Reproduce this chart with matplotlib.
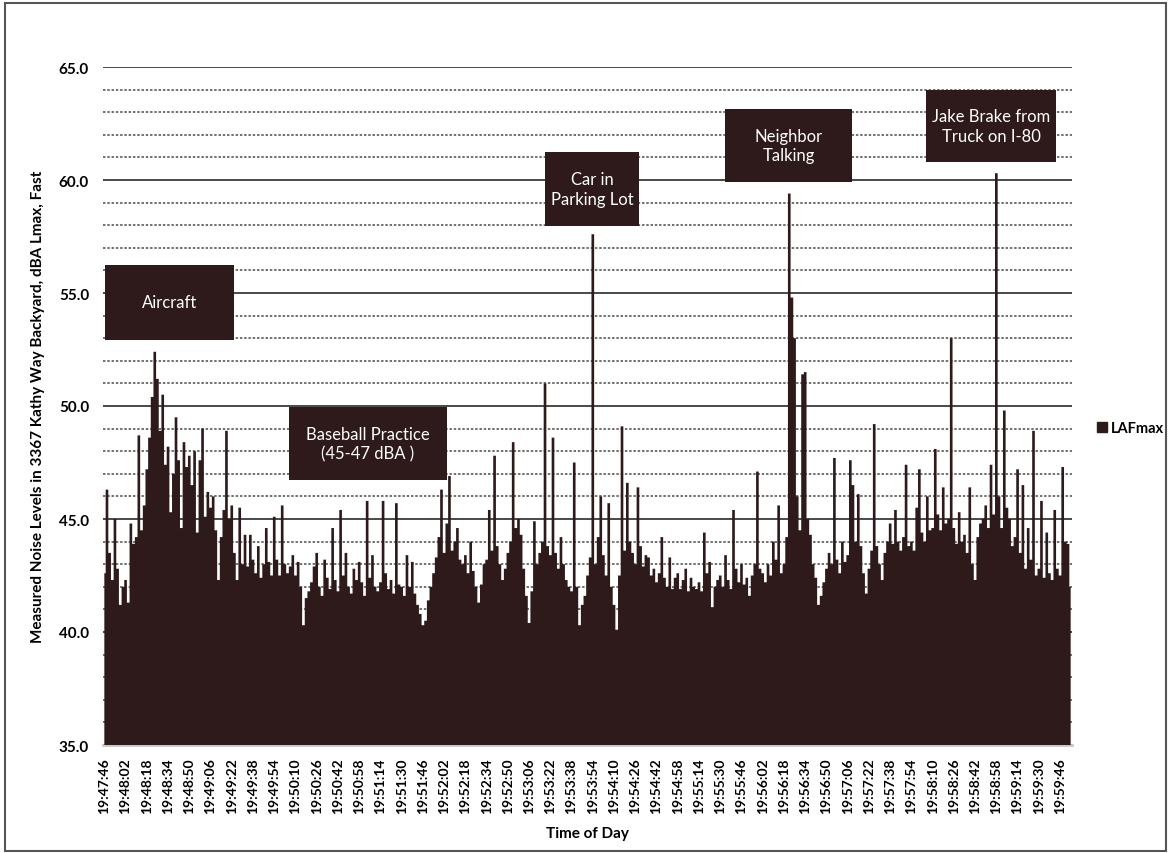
import matplotlib.pyplot as plt
import numpy as np
from matplotlib.patches import Patch, Rectangle

# LAFmax readings, 2 s apart, one row per 16 s tick interval
LAFMAX = [
    42.6, 46.3, 43.5, 42.3, 45.0, 42.8, 41.2, 42.0,
    42.3, 41.3, 44.8, 43.9, 44.2, 48.7, 44.5, 45.6,
    47.2, 48.6, 50.4, 52.4, 51.2, 48.9, 50.5, 47.4,
    48.2, 45.3, 47.0, 49.5, 47.6, 44.6, 48.4, 47.3,
    47.8, 46.5, 48.0, 44.4, 47.6, 49.0, 45.1, 46.2,
    45.5, 46.0, 44.5, 42.3, 44.2, 45.4, 48.9, 45.0,
    45.6, 43.5, 42.3, 45.5, 43.0, 44.3, 42.9, 44.3,
    43.2, 42.6, 43.8, 42.4, 43.0, 44.6, 43.1, 42.5,
    45.1, 43.2, 42.5, 45.6, 43.0, 42.6, 42.9, 43.4,
    42.5, 43.1, 42.0, 40.3, 41.5, 41.8, 42.2, 42.9,
    43.5, 42.0, 41.6, 43.2, 42.4, 41.9, 44.6, 42.3,
    41.8, 45.4, 42.5, 43.5, 42.0, 41.7, 42.8, 42.3,
    43.1, 42.2, 41.6, 45.8, 42.4, 43.4, 42.0, 41.8,
    42.2, 45.8, 42.6, 41.9, 42.3, 41.7, 45.7, 42.1,
    42.0, 41.6, 43.4, 42.0, 43.1, 41.7, 41.2, 40.8,
    40.3, 40.5, 41.4, 42.0, 42.6, 43.3, 44.2, 46.3,
    43.5, 44.8, 46.9, 43.6, 44.0, 44.6, 43.2, 43.0,
    43.4, 42.6, 44.0, 42.7, 42.0, 41.3, 42.1, 43.0,
    43.2, 45.4, 43.6, 47.8, 43.8, 43.0, 42.3, 42.8,
    43.5, 44.0, 48.4, 44.6, 45.0, 44.3, 42.8, 41.6,
    40.4, 41.8, 44.9, 43.0, 43.5, 44.0, 51.0, 43.8,
    43.4, 48.6, 43.5, 42.8, 44.2, 43.0, 42.3, 42.0,
    41.8, 47.5, 42.0, 40.3, 41.2, 41.6, 42.5, 43.3,
    57.6, 43.0, 44.2, 46.0, 43.4, 42.5, 45.7, 42.0,
    41.2, 40.1, 42.5, 49.1, 43.6, 46.6, 44.0, 43.5,
    43.0, 46.4, 43.8, 42.9, 43.4, 43.3, 42.5, 42.8,
    42.2, 42.6, 44.2, 42.4, 42.0, 43.3, 41.9, 42.4,
    42.6, 41.9, 42.3, 42.8, 41.8, 42.4, 42.0, 41.9,
    42.2, 41.8, 44.4, 42.6, 43.1, 41.1, 42.0, 42.3,
    42.5, 42.0, 43.4, 42.3, 41.9, 45.4, 42.8, 42.2,
    43.0, 42.1, 42.4, 41.6, 42.5, 43.0, 47.1, 42.8,
    42.6, 42.2, 43.0, 42.5, 44.0, 43.2, 45.6, 42.6,
    43.0, 44.2, 59.4, 54.8, 53.0, 46.0, 44.5, 51.4,
    51.5, 45.0, 44.3, 43.0, 42.4, 41.2, 41.6, 42.2,
    42.8, 43.5, 43.0, 47.7, 43.2, 42.6, 44.0, 43.1,
    43.4, 47.6, 46.5, 44.0, 46.1, 43.8, 42.6, 41.7,
    42.8, 43.6, 49.2, 43.8, 43.0, 42.3, 43.5, 44.0,
    44.8, 43.9, 45.4, 44.0, 43.6, 44.2, 47.4, 43.8,
    44.0, 43.6, 45.5, 47.2, 44.4, 44.0, 46.0, 44.5,
    44.6, 48.1, 45.2, 44.5, 46.4, 44.8, 45.0, 53.0,
    44.6, 43.9, 45.3, 44.0, 44.3, 43.5, 46.4, 43.0,
    42.3, 44.2, 44.8, 45.0, 45.6, 44.6, 47.4, 45.2,
    60.3, 46.0, 44.6, 49.8, 45.5, 45.0, 43.8, 44.2,
    47.2, 43.5, 46.5, 42.8, 44.6, 43.2, 48.9, 42.5,
    42.8, 45.8, 42.4, 44.4, 42.6, 42.3, 45.4, 42.8,
    42.5, 47.3, 44.0, 43.9, 42.0,
]

TICK_LABELS = [
    "19:47:46", "19:48:02", "19:48:18", "19:48:34", "19:48:50", "19:49:06",
    "19:49:22", "19:49:38", "19:49:54", "19:50:10", "19:50:26", "19:50:42",
    "19:50:58", "19:51:14", "19:51:30", "19:51:46", "19:52:02", "19:52:18",
    "19:52:34", "19:52:50", "19:53:06", "19:53:22", "19:53:38", "19:53:54",
    "19:54:10", "19:54:26", "19:54:42", "19:54:58", "19:55:14", "19:55:30",
    "19:55:46", "19:56:02", "19:56:18", "19:56:34", "19:56:50", "19:57:06",
    "19:57:22", "19:57:38", "19:57:54", "19:58:10", "19:58:26", "19:58:42",
    "19:58:58", "19:59:14", "19:59:30", "19:59:46",
]
TICK_STEP = 8

# annotation boxes: text, (left, top, right, bottom) in pixels
NOTES = [
    ("Aircraft", (105, 266, 234, 341)),
    ("Baseball Practice\n(45-47 dBA )", (289, 408, 447, 481)),
    ("Car in\nParking Lot", (545, 153, 639, 227)),
    ("Neighbor\nTalking", (725, 110, 852, 183)),
    ("Jake Brake from\nTruck on I-80", (926, 91, 1056, 163)),
]

DARK = "#2f1a1b"
W, H = 1171, 854

plt.rcParams["font.family"] = ["Lato", "DejaVu Sans"]

fig = plt.figure(figsize=(W / 100, H / 100), dpi=100)
ax = fig.add_axes([103 / W, 1 - 746 / H, (1072 - 103) / W, (746 - 68) / H])

x = np.arange(len(LAFMAX))
ax.fill_between(x, LAFMAX, 0, step="mid", color=DARK, linewidth=0, zorder=3)

ax.set_xlim(-0.5, len(LAFMAX) - 0.5)
ax.set_ylim(35, 65)
ax.set_yticks(np.arange(35, 65.1, 5))
ax.set_yticks(np.arange(35, 65.1, 1), minor=True)
ax.set_yticklabels([f"{v:.1f}" for v in np.arange(35, 65.1, 5)], fontsize=11, fontweight="bold")
ax.grid(axis="y", which="major", color="#3a3a3a", linewidth=1.3, zorder=1)
ax.grid(axis="y", which="minor", color="#4a4a4a", linewidth=1.1, linestyle=(0, (1.6, 1.2)), zorder=1)
ax.set_axisbelow(True)

ax.set_xticks(np.arange(0, len(LAFMAX), TICK_STEP))
ax.set_xticklabels(TICK_LABELS, rotation=90, fontsize=10, fontweight="bold")
ax.tick_params(axis="both", which="both", length=0)
ax.tick_params(axis="y", pad=10)
ax.tick_params(axis="x", pad=9)

for side in ["top", "right", "left"]:
    ax.spines[side].set_visible(False)
ax.spines["bottom"].set_color("#c8c8c8")
ax.spines["bottom"].set_linewidth(2)

ax.set_xlabel("Time of Day", fontsize=11, fontweight="bold", labelpad=9)
ax.set_ylabel("Measured Noise Levels in 3367 Kathy Way Backyard, dBA Lmax, Fast",
              fontsize=11, fontweight="bold", labelpad=10)

ax.legend(handles=[Patch(color=DARK, label="LAFmax")], loc="center left",
          bbox_to_anchor=(1.012, 0.467), frameon=False, handlelength=0.7,
          handleheight=0.7, handletextpad=0.3, prop={"size": 10.5, "weight": "bold"})

for text, (l, t, r, b) in NOTES:
    fig.add_artist(Rectangle((l / W, 1 - b / H), (r - l) / W, (b - t) / H,
                             transform=fig.transFigure, facecolor=DARK,
                             edgecolor="none", zorder=5))
    fig.text((l + r) / 2 / W, 1 - (t + b) / 2 / H, text, color="white",
             fontsize=12, ha="center", va="center", linespacing=1.25, zorder=6)

# frame around the whole figure
fig.add_artist(Rectangle((5 / W, 2 / H), (W - 10) / W, (H - 6) / H,
                         transform=fig.transFigure, facecolor="none",
                         edgecolor="#555555", linewidth=1.5))

fig.savefig("out.png", dpi=100)
